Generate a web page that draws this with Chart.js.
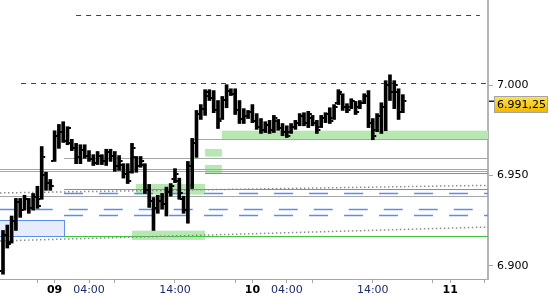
<!DOCTYPE html>
<html>
<head>
<meta charset="utf-8">
<script src="https://cdn.jsdelivr.net/npm/chart.js@4.4.1/dist/chart.umd.min.js"></script>
<style>
  html, body { margin: 0; padding: 0; background: #fff; }
</style>
</head>
<body>
<canvas id="chart" width="550" height="300"></canvas>
<script>
// 30 min OHLC bars, index 0 = 08. 18:00 (trading hours only)
const highs = [6919.5, 6922.5, 6927.5, 6937.25, 6937.25, 6939, 6937.25, 6940, 6944, 6966,
  6951.75, 6947.75, 6974.75, 6978.25, 6979.75, 6977, 6970, 6967.75, 6967, 6967,
  6963.75, 6961.5, 6963.25, 6961.5, 6964.5, 6964.5, 6963.25, 6961, 6956.5, 6956.5,
  6967.75, 6960.5, 6960.5, 6956.5, 6945, 6937.75, 6939, 6940, 6943.5, 6945.5,
  6953.75, 6948.5, 6938.5, 6957.75, 6970.5, 6986, 6989.25, 6997.5, 6997.5, 6997,
  6991.5, 6993.75, 7000.25, 6998, 6998, 6991.5, 6987, 6986, 6989.25, 6984.25,
  6981.5, 6979.75, 6980.5, 6983.25, 6981, 6978.75, 6977.5, 6978.75, 6980.5, 6984.25,
  6984.75, 6985.5, 6983.25, 6980.5, 6983.25, 6984.75, 6987.5, 6989.25, 6997.5, 6995.25,
  6989.75, 6992.5, 6991, 6991.5, 6995.25, 6997, 6981.5, 6984.25, 6990.25, 7002.5,
  7005.75, 7002.5, 6998, 6994.75];
const lows = [6895.25, 6909.75, 6912.5, 6919.5, 6926.75, 6930.75, 6929, 6930.75, 6931.75, 6936.75,
  6941.75, 6941.75, 6957.75, 6965, 6968.25, 6967, 6963.75, 6956.5, 6956.5, 6959.5,
  6957.75, 6955.5, 6956, 6956, 6955.5, 6957.75, 6952.25, 6952.75, 6948.5, 6945.5,
  6951.25, 6951.75, 6954.5, 6940, 6932.25, 6919.5, 6929, 6931.25, 6927.5, 6938.5,
  6946, 6936.75, 6929, 6923.5, 6942.75, 6960, 6981, 6983.25, 6991.5, 6984.75,
  6976, 6981, 6987.5, 6994.25, 6983.75, 6978.75, 6978.75, 6981.5, 6979.25, 6975.5,
  6973.25, 6973.75, 6973.25, 6973.75, 6975, 6972, 6971, 6973.25, 6975.5, 6977.5,
  6977.5, 6976.5, 6977.5, 6973.25, 6976.5, 6979.25, 6978.75, 6981, 6989.25, 6986,
  6984.75, 6987, 6983.75, 6987, 6989.75, 6976.5, 6969.75, 6974.25, 6973.25, 6974.75,
  6991.5, 6987, 6981, 6984.75];
const opens = [6897, 6917, 6913, 6925, 6935, 6931, 6937, 6932, 6938, 6937,
  6950, 6946, 6958, 6972, 6974, 6969, 6968, 6965, 6960, 6964,
  6961, 6959, 6957, 6961, 6958, 6963, 6961, 6955, 6956, 6951,
  6952, 6960, 6955, 6956, 6942, 6936, 6932, 6936, 6934, 6941,
  6948, 6947, 6937, 6931, 6955, 6968, 6984, 6987, 6994, 6993,
  6986, 6981.5, 6992, 6997, 6995, 6986, 6981, 6983, 6985, 6980,
  6977, 6975, 6978, 6975, 6980, 6976, 6974, 6974, 6977, 6979,
  6983, 6979, 6982, 6979, 6977, 6982, 6984, 6982, 6990, 6995,
  6988, 6988, 6991, 6988, 6990, 6994, 6979, 6975, 6983, 6988,
  7000, 6996, 6996, 6985];
const closes = [6917, 6912, 6925, 6935, 6931, 6937, 6932, 6938, 6933, 6960,
  6946, 6944, 6972, 6974, 6969, 6976, 6965, 6960, 6964, 6961,
  6959, 6957, 6961, 6958, 6963, 6961, 6955, 6958, 6951, 6947,
  6965, 6955, 6958, 6942, 6936, 6932, 6936, 6934, 6941, 6944,
  6951, 6940, 6931, 6955, 6968, 6984, 6987, 6996, 6993, 6986,
  6980, 6992, 6997, 6995, 6986, 6981, 6983, 6985, 6980, 6977,
  6975, 6978, 6975, 6982, 6976, 6974, 6972, 6977, 6979, 6983,
  6979, 6984, 6979, 6975, 6982, 6984, 6980, 6988, 6996, 6988,
  6986, 6991, 6985, 6990, 6994, 6979, 6972, 6983, 6988, 7000,
  6996, 7000, 6985, 6991.25];
const lastPrice = 6991.25;

// time axis (bar index)
const tickIdx = [8, 12, 20, 26, 40, 54, 58, 66, 72, 86, 100, 104, 112];
const tickLabels = ['', '09', '04:00', '', '14:00', '', '10', '04:00', '', '14:00', '', '11', ''];
const priceTicks = [6900, 6950, 7000];

// horizontal levels: [price, fromBar, toBar]
const purpleLevels = [[7038.9, 17, 110.9], [7001.2, 4.2, 112.3]];
const grayLevels = [[6970.2, 44, 113], [6959.5, 14.2, 113], [6953.4, -1, 113], [6952.45, -1, 113], [6938.6, -1, 113]];
const greenLevels = [[6951.2, 47, 113], [6942.3, 14.2, 113], [6916.3, 14.2, 113]];
const blueLevels = [[6940.1, 14.2, 113], [6931.25, -1, 113], [6927.9, 14.2, 113]];
// zones: [top, bottom, fromBar, toBar]
const greenZones = [[6974.8, 6970.2, 50.9, 113], [6964.65, 6960.4, 47, 50.9], [6955.8, 6951.35, 47, 50.9],
  [6945.25, 6939.35, 30.9, 47], [6919.4, 6914.25, 30, 47]];
const blueZones = [[6925.3, 6916.6, -1, 14.2]];
// dotted trend lines: [fromBar, fromPrice, toBar, toPrice]
const trendLines = [[-0.7, 6940.3, 112.8, 6944.5], [-0.7, 6913.7, 112.8, 6921.4]];

const FONT = 'DejaVu Sans';

function fmtDe(v, dec) {
  const parts = v.toFixed(dec).split('.');
  const int = parts[0].replace(/\B(?=(\d{3})+(?!\d))/g, '.');
  return parts[1] ? int + ',' + parts[1] : int;
}

const levelsPlugin = {
  id: 'levels',
  beforeDatasetsDraw(chart) {
    const { ctx, chartArea: a, scales: { x, y } } = chart;
    ctx.save();
    ctx.beginPath();
    ctx.rect(a.left, a.top, a.right - a.left, a.bottom - a.top);
    ctx.clip();

    const hlines = (list, color, width, dash) => {
      ctx.strokeStyle = color;
      ctx.lineWidth = width;
      ctx.setLineDash(dash);
      list.forEach(([p, f, t]) => {
        const py = Math.round(y.getPixelForValue(p)) + 0.5;
        ctx.beginPath();
        ctx.moveTo(x.getPixelForValue(f), py);
        ctx.lineTo(x.getPixelForValue(t), py);
        ctx.stroke();
      });
    };

    ctx.fillStyle = '#b7e8b2';
    greenZones.forEach(([top, bot, f, t]) => {
      const x1 = x.getPixelForValue(f), x2 = x.getPixelForValue(t);
      const y1 = y.getPixelForValue(top), y2 = y.getPixelForValue(bot);
      ctx.fillRect(x1, y1, x2 - x1, y2 - y1);
    });

    blueZones.forEach(([top, bot, f, t]) => {
      const x1 = x.getPixelForValue(f), x2 = Math.round(x.getPixelForValue(t)) + 0.5;
      const y1 = Math.round(y.getPixelForValue(top)) + 0.5, y2 = Math.round(y.getPixelForValue(bot)) + 0.5;
      ctx.fillStyle = '#e6ecfc';
      ctx.fillRect(x1, y1, x2 - x1, y2 - y1);
      ctx.strokeStyle = '#5b8ef0';
      ctx.lineWidth = 1;
      ctx.setLineDash([]);
      ctx.strokeRect(x1, y1, x2 - x1, y2 - y1);
    });

    hlines(grayLevels, '#a6a6a6', 1, []);
    hlines(greenLevels, '#3ec43e', 1, []);
    hlines(blueLevels, '#5b8ef0', 1.4, [19, 16]);
    hlines(purpleLevels, '#7412b8', 1, [5, 5]);

    ctx.strokeStyle = '#8c8c8c';
    ctx.lineWidth = 1.5;
    ctx.setLineDash([1.5, 2.5]);
    trendLines.forEach(([f, p1, t, p2]) => {
      ctx.beginPath();
      ctx.moveTo(x.getPixelForValue(f), y.getPixelForValue(p1));
      ctx.lineTo(x.getPixelForValue(t), y.getPixelForValue(p2));
      ctx.stroke();
    });
    ctx.restore();
  }
};

// open tick left, close tick right
const ohlcPlugin = {
  id: 'ohlcTicks',
  afterDatasetsDraw(chart) {
    const { ctx, scales: { x, y } } = chart;
    ctx.save();
    ctx.fillStyle = '#000';
    opens.forEach((o, i) => {
      const xp = x.getPixelForValue(i);
      ctx.fillRect(xp - 3.5, Math.round(y.getPixelForValue(o)) - 1, 2, 2);
      ctx.fillRect(xp + 1.5, Math.round(y.getPixelForValue(closes[i])) - 1, 2, 2);
    });
    ctx.restore();
  }
};

const lastPricePlugin = {
  id: 'lastPrice',
  afterDraw(chart) {
    const { ctx, chartArea: a, scales: { y } } = chart;
    const py = Math.round(y.getPixelForValue(lastPrice));
    ctx.save();
    ctx.fillStyle = '#222';
    ctx.fillRect(a.right + 1, py - 0.5, 6, 1.5);
    const bx = a.right + 6.5, by = py - 4.5, bw = 53, bh = 16;
    const g = ctx.createLinearGradient(0, by, 0, by + bh);
    g.addColorStop(0, '#ffe34d');
    g.addColorStop(1, '#f2b600');
    ctx.fillStyle = g;
    ctx.fillRect(bx, by, bw, bh);
    ctx.strokeStyle = '#a4a4a4';
    ctx.lineWidth = 1;
    ctx.strokeRect(bx, by, bw, bh);
    ctx.fillStyle = '#000';
    ctx.font = '11px "' + FONT + '"';
    ctx.textBaseline = 'middle';
    ctx.fillText(fmtDe(lastPrice, 2), bx + 2.5, by + bh / 2 + 0.5);
    ctx.restore();
  }
};

new Chart(document.getElementById('chart'), {
  type: 'bar',
  data: {
    datasets: [{
      data: highs.map((h, i) => ({ x: i, y: [lows[i], h] })),
      backgroundColor: '#000',
      borderWidth: 0,
      barThickness: 3
    }]
  },
  options: {
    responsive: false,
    animation: false,
    devicePixelRatio: 1,
    layout: { padding: 0 },
    plugins: { legend: { display: false }, tooltip: { enabled: false } },
    scales: {
      x: {
        type: 'linear',
        min: -0.7,
        max: 112.8,
        offset: false,
        grid: { drawOnChartArea: false, tickLength: 4, color: '#a6a6a6', offset: false },
        border: { color: '#a6a6a6', width: 1 },
        afterBuildTicks: s => { s.ticks = tickIdx.map(v => ({ value: v })); },
        afterFit: s => { s.height = 21; s.paddingLeft = 0; s.paddingRight = 0; },
        ticks: {
          autoSkip: false,
          maxRotation: 0,
          padding: 1,
          callback: (v, i) => tickLabels[i],
          color: c => tickLabels[c.index] && tickLabels[c.index].length === 2 ? '#000' : '#1c2a6e',
          font: c => ({ family: FONT, size: 11, weight: tickLabels[c.index] && tickLabels[c.index].length === 2 ? 'bold' : 'normal' })
        }
      },
      y: {
        position: 'right',
        min: 6892.6,
        max: 7047.2,
        grid: { drawOnChartArea: false, tickLength: 5, color: '#a6a6a6' },
        border: { color: '#b4b4b4', width: 2 },
        afterBuildTicks: s => { s.ticks = priceTicks.map(v => ({ value: v })); },
        afterFit: s => { s.width = 62; s.paddingTop = 0; s.paddingBottom = 0; },
        ticks: {
          padding: 4,
          color: '#000',
          font: { family: FONT, size: 11 },
          callback: v => fmtDe(v, 0)
        }
      }
    }
  },
  plugins: [levelsPlugin, ohlcPlugin, lastPricePlugin]
});
</script>
</body>
</html>
